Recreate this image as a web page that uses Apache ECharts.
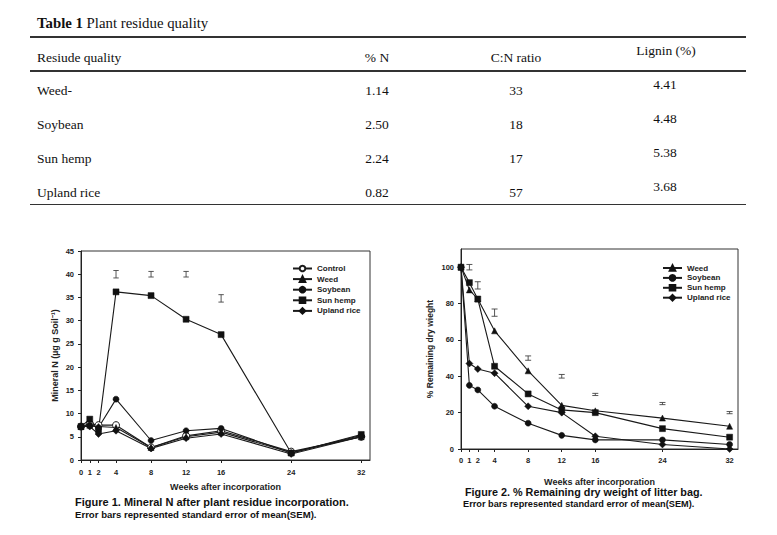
<!DOCTYPE html>
<html>
<head>
<meta charset="utf-8">
<script src="https://cdn.jsdelivr.net/npm/echarts@6.0.0/dist/echarts.min.js"></script>
<style>
  html, body { margin: 0; padding: 0; background: #fff; }
  #page { position: relative; width: 777px; height: 535px; overflow: hidden; }
  #chart { position: absolute; left: 0; top: 0; width: 777px; height: 535px; }
  #table { position: absolute; left: 0; top: 0; width: 777px; height: 215px; z-index: 2;
           font-family: 'Liberation Serif', 'Times New Roman', serif; color: #111; font-size: 13.5px; }
  .cell { position: absolute; white-space: nowrap; line-height: 1; }
  .rule { position: absolute; left: 30px; width: 716px; background: #333; }
</style>
</head>
<body>
<div id="page">
  <div id="chart"></div>
  <div id="table"></div>
</div>
<script>
// ---------------- Table data ----------------
const tableTitleBold = 'Table 1';
const tableTitleRest = ' Plant residue quality';
const tableHeaders = ['Resiude quality', '% N', 'C:N ratio', 'Lignin (%)'];
const residues = ['Weed-', 'Soybean', 'Sun hemp', 'Upland rice'];
const pctN = ['1.14', '2.50', '2.24', '0.82'];
const cnRatio = ['33', '18', '17', '57'];
const lignin = ['4.41', '4.48', '5.38', '3.68'];

// ---------------- Figure data ----------------
const weeks = [0, 1, 2, 4, 8, 12, 16, 24, 32];
const weekTicks = [0, 1, 2, 4, 8, 12, 16, 24, 32];

// Figure 1: Mineral N (µg g Soil-1)
const f1Control   = [7.2, 7.8, 7.5, 7.5, 2.7, 5.2, 6.3, 1.8, 5.0];
const f1Weed      = [7.2, 7.5, 7.2, 7.0, 2.7, 5.0, 6.0, 1.6, 5.0];
const f1Soybean   = [7.2, 7.5, 7.0, 13.1, 4.2, 6.3, 6.8, 1.5, 5.3];
const f1SunHemp   = [7.2, 8.8, 6.5, 36.2, 35.4, 30.3, 27.0, 1.5, 5.5];
const f1Upland    = [7.2, 7.2, 5.6, 6.3, 2.5, 4.7, 5.6, 1.3, 5.0];
const f1ErrWeeks  = [4, 8, 12, 16];
const f1ErrMid    = [40, 40, 40, 34.8];
const f1ErrHalf   = [0.8, 0.6, 0.6, 0.8];
const f1YTicks    = [0, 5, 10, 15, 20, 25, 30, 35, 40, 45];

// Figure 2: % Remaining dry weight
const f2Weed      = [100, 87.5, 82.5, 65, 43, 24, 21, 17, 12.5];
const f2Soybean   = [100, 35, 32.5, 23.5, 14.2, 7.5, 5, 5, 2.5];
const f2SunHemp   = [100, 91.5, 82.5, 45.5, 30.3, 21.5, 20, 11.2, 6.5];
const f2Upland    = [100, 47, 44, 41.7, 23.5, 20, 7, 2.5, 0];
const f2ErrWeeks  = [1, 2, 4, 8, 12, 16, 24, 32];
const f2ErrMid    = [100, 90, 75, 50, 40, 30, 25, 20];
const f2ErrHalf   = [1.5, 2, 2, 1.2, 1, 0.6, 0.6, 0.6];
const f2YTicks    = [0, 20, 40, 60, 80, 100];

// ---------------- Build table ----------------
(function buildTable() {
  const t = document.getElementById('table');
  function cell(html, x, y, align, extra) {
    const d = document.createElement('div');
    d.className = 'cell';
    d.innerHTML = html;
    d.style.left = x + 'px';
    d.style.top = y + 'px';
    d.style.transform = align === 'center' ? 'translate(-50%,-50%)' : 'translate(0,-50%)';
    if (extra) Object.assign(d.style, extra);
    t.appendChild(d);
  }
  function rule(y, h) {
    const r = document.createElement('div');
    r.className = 'rule';
    r.style.top = y + 'px';
    r.style.height = h + 'px';
    t.appendChild(r);
  }
  cell('<b>' + tableTitleBold + '</b>' + tableTitleRest, 37, 22.5, 'left', { fontSize: '14.8px' });
  rule(36, 1.5);
  rule(70, 1.5);
  rule(203.5, 1.5);
  const colX = [37, 377, 516, 666];
  cell(tableHeaders[0], colX[0], 58, 'left');
  cell(tableHeaders[1], colX[1], 58, 'center');
  cell(tableHeaders[2], colX[2], 58, 'center');
  cell(tableHeaders[3], colX[3], 51, 'center');
  const rowY0 = 91, rowStep = 34;
  residues.forEach((name, i) => {
    const y = rowY0 + i * rowStep;
    cell(name, colX[0], y, 'left');
    cell(pctN[i], colX[1], y, 'center');
    cell(cnRatio[i], colX[2], y, 'center');
    cell(lignin[i], colX[3] - 1, y - 6, 'center');
  });
})();

// ---------------- Chart ----------------
const FONT = "'Liberation Sans', Arial, sans-serif";
const LINE = '#1a1a1a';
const chart = echarts.init(document.getElementById('chart'), null, { renderer: 'svg', width: 777, height: 535 });

function pairs(vals) { return weeks.map((w, i) => [w, vals[i]]); }
function errData(ws, mid, half) { return ws.map((w, i) => [w, mid[i] - half[i], mid[i] + half[i]]); }

function lineSeries(name, vals, symbol, size, xi, open) {
  return {
    type: 'line', name: name, xAxisIndex: xi, yAxisIndex: xi,
    data: pairs(vals), symbol: symbol, symbolSize: size,
    showSymbol: true, animation: false,
    lineStyle: { color: LINE, width: 1.1 },
    itemStyle: open ? { color: '#fff', borderColor: LINE, borderWidth: 1 } : { color: '#111', borderColor: '#111', borderWidth: 0.5 },
    emphasis: { disabled: true }
  };
}
function errSeries(xi, data, capHalf) {
  return {
    type: 'custom', xAxisIndex: xi, yAxisIndex: xi, data: data, animation: false, silent: true,
    renderItem: function (params, api) {
      const x = api.value(0);
      const lo = api.coord([x, api.value(1)]);
      const hi = api.coord([x, api.value(2)]);
      const st = { stroke: '#444', lineWidth: 0.9 };
      return { type: 'group', children: [
        { type: 'line', shape: { x1: lo[0], y1: lo[1], x2: hi[0], y2: hi[1] }, style: st },
        { type: 'line', shape: { x1: lo[0] - capHalf, y1: lo[1], x2: lo[0] + capHalf, y2: lo[1] }, style: st },
        { type: 'line', shape: { x1: hi[0] - capHalf, y1: hi[1], x2: hi[0] + capHalf, y2: hi[1] }, style: st }
      ]};
    }
  };
}

const axisBase = {
  axisLine: { show: true, onZero: false, lineStyle: { color: '#222', width: 1 } },
  splitLine: { show: false }
};

function xAxis(gi, gap, nameGap, fs) {
  return Object.assign({}, axisBase, {
    type: 'value', gridIndex: gi, min: 0, max: 33,
    name: 'Weeks after incorporation', nameLocation: 'middle', nameGap: nameGap,
    nameTextStyle: { fontFamily: FONT, fontWeight: 'bold', fontSize: fs, color: '#222' },
    axisLabel: { customValues: weekTicks, margin: gap, fontFamily: FONT, fontWeight: 'bold', fontSize: 7.5, color: '#222' },
    axisTick: { show: true, inside: false, length: 3, customValues: weekTicks, lineStyle: { color: '#222' } }
  });
}
function yAxis(gi, max, ticks, name, nameGap, fs) {
  return Object.assign({}, axisBase, {
    type: 'value', gridIndex: gi, min: 0, max: max,
    name: name, nameLocation: 'middle', nameGap: nameGap,
    nameTextStyle: { fontFamily: FONT, fontWeight: 'bold', fontSize: fs, color: '#222' },
    axisLabel: { customValues: ticks, margin: 7, fontFamily: FONT, fontWeight: 'bold', fontSize: 7.5, color: '#222' },
    axisTick: { show: true, inside: false, length: 3, customValues: ticks, lineStyle: { color: '#222' } }
  });
}

const legendText = { fontFamily: FONT, fontWeight: 'bold', fontSize: 8, color: '#222' };

const option = {
  animation: false,
  backgroundColor: 'transparent',
  grid: [
    { left: 81, top: 251, width: 289, height: 209, show: true, borderColor: '#333', borderWidth: 1, containLabel: false },
    { left: 461, top: 249, width: 277, height: 200, show: true, borderColor: '#333', borderWidth: 1, containLabel: false }
  ],
  xAxis: [ xAxis(0, 8, 22, 9), xAxis(1, 7, 28, 9) ],
  yAxis: [
    yAxis(0, 45, f1YTicks, 'Mineral N (µg g Soil⁻¹)', 22, 9),
    yAxis(1, 110, f2YTicks, '% Remaining dry wieght', 27, 8.5)
  ],
  legend: [
    { orient: 'vertical', left: 292, top: 264.5, itemWidth: 19, itemHeight: 7, itemGap: 2.6, padding: 0,
      data: ['Control', 'Weed', 'Soybean', 'Sun hemp', 'Upland rice'], textStyle: legendText, selectedMode: false },
    { orient: 'vertical', left: 662, top: 264, itemWidth: 19, itemHeight: 7, itemGap: 1.9, padding: 0,
      data: ['Weed ', 'Soybean ', 'Sun hemp ', 'Upland rice '], textStyle: legendText, selectedMode: false }
  ],
  graphic: [
    { type: 'text', left: 75, top: 496, style: { text: 'Figure 1. Mineral N after plant residue incorporation.', font: 'bold 11px ' + FONT, fill: '#111' } },
    { type: 'text', left: 75, top: 509, style: { text: 'Error bars represented standard error of mean(SEM).', font: 'bold 9.6px ' + FONT, fill: '#111' } },
    { type: 'text', left: 465, top: 486, style: { text: 'Figure 2. % Remaining dry weight of litter bag.', font: 'bold 10.8px ' + FONT, fill: '#111' } },
    { type: 'text', left: 463, top: 499, style: { text: 'Error bars represented standard error of mean(SEM).', font: 'bold 9.2px ' + FONT, fill: '#111' } }
  ],
  series: [
    errSeries(0, errData(f1ErrWeeks, f1ErrMid, f1ErrHalf), 2.7),
    lineSeries('Control', f1Control, 'circle', 7, 0, true),
    lineSeries('Weed', f1Weed, 'triangle', 6, 0),
    lineSeries('Soybean', f1Soybean, 'circle', 6, 0),
    lineSeries('Sun hemp', f1SunHemp, 'rect', 6, 0),
    lineSeries('Upland rice', f1Upland, 'diamond', 7, 0),
    errSeries(1, errData(f2ErrWeeks, f2ErrMid, f2ErrHalf), 3),
    lineSeries('Weed ', f2Weed, 'triangle', 6, 1),
    lineSeries('Soybean ', f2Soybean, 'circle', 6, 1),
    lineSeries('Sun hemp ', f2SunHemp, 'rect', 6, 1),
    lineSeries('Upland rice ', f2Upland, 'diamond', 7, 1)
  ]
};
chart.setOption(option);
</script>
</body>
</html>
